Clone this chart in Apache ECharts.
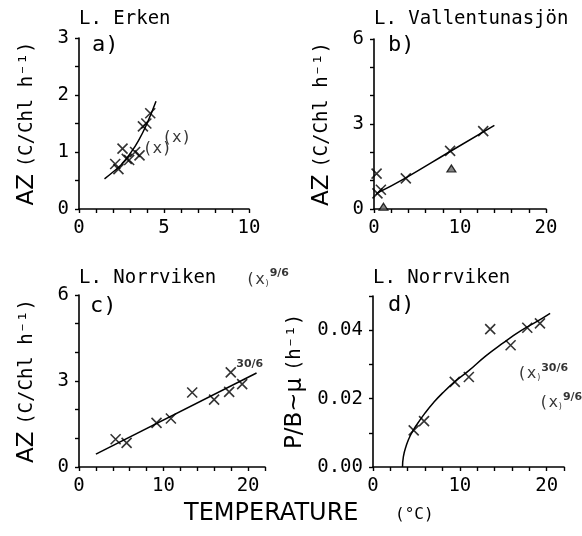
<!DOCTYPE html>
<html><head><meta charset="utf-8">
<script src="https://cdn.jsdelivr.net/npm/echarts@6/dist/echarts.min.js"></script>
<style>html,body{margin:0;padding:0;background:#fff}#c{width:582px;height:536px}</style>
</head><body><div id="c"></div>
<script>
// ---- data ----
const erkenPoints = [[2.13,0.79],[2.32,0.70],[2.56,1.06],[2.81,0.88],[2.95,0.86],[3.3,1.0],[3.56,0.94],[3.76,1.45],[3.96,1.50],[4.19,1.68]];
const erkenCurve = [[1.5,0.53],[2.0,0.65],[2.5,0.78],[3.0,0.97],[3.5,1.2],[4.0,1.5],[4.53,1.89]];
const erkenNotes = [[4.6,1.06,'(x)'],[5.75,1.25,'(x)']];
const vallPoints = [[0.3,1.25],[0.4,0.55],[0.8,0.68],[3.7,1.08],[8.85,2.05],[12.7,2.75]];
const vallCurve = [[0.3,0.55],[3.7,1.1],[8.8,2.02],[14,2.95]];
const vallTriangles = [[1.1,0.08],[9.0,1.43]];
const norrAZPoints = [[4.33,0.97],[5.63,0.84],[9.17,1.54],[10.87,1.69],[13.39,2.6],[15.98,2.35],[17.76,2.62],[17.95,3.30],[19.3,2.89]];
const norrAZLine = [[2,0.45],[21,3.28]];
const norrAZNotes = [[18.6,3.42,'','30/6'],[19.7,6.6,'(x','9/6']];
const norrPBPoints = [[4.69,0.0107],[5.88,0.0134],[9.42,0.0249],[11.04,0.0263],[13.5,0.0403],[15.85,0.0356],[17.77,0.0407],[19.23,0.0420]];
const norrPBCurve = [[3.4,0],[3.5,0.003],[3.8,0.006],[4.3,0.0092],[5,0.0122],[6,0.0158],[7,0.0189],[8,0.0216],[9.4,0.0249],[11,0.0281],[13,0.0325],[15,0.0363],[17,0.0398],[19,0.0427],[20.4,0.0449]];
const norrPBNotes = [[16.6,0.0277,'(x','30/6'],[19.1,0.0192,'(x','9/6']];
const xLabelsA = [0,5,10], yLabelsA = [0,1,2,3];
const xLabelsB = [0,10,20], yLabelsB = [0,3,6];
const xLabelsC = [0,10,20], yLabelsC = [0,3,6];
const xLabelsD = [0,10,20], yLabelsD = ['0.00','0.02','0.04'];
const titles = ['L. Erken','L. Vallentunasjön','L. Norrviken','L. Norrviken'];
const panelTags = ['a)','b)','c)','d)'];

// ---- chart ----
const MONO = 'DejaVu Sans Mono';
const chart = echarts.init(document.getElementById('c'), null, {renderer:'canvas'});
const crossPath = 'path://M0,0L10,10M10,0L0,10';

function xAx(i, max, interval, labels){
  return {type:'value', gridIndex:i, min:0, max:max, interval:interval,
    axisLine:{show:true, onZero:false, lineStyle:{color:'#000', width:1.6}},
    axisTick:{show:true, inside:false, length:4, lineStyle:{color:'#000', width:1.4}},
    splitLine:{show:false},
    axisLabel:{margin:10, color:'#000', fontFamily:MONO, fontSize:19,
      formatter:v => labels.some(l => Math.abs(l - v) < 1e-9) ? String(v) : ''}};
}
function yAx(i, max, interval, labels, nameRich, nameGap){
  return {type:'value', gridIndex:i, min:0, max:max, interval:interval,
    axisLine:{show:true, onZero:false, lineStyle:{color:'#000', width:1.6}},
    axisTick:{show:true, inside:false, length:4, lineStyle:{color:'#000', width:1.4}},
    splitLine:{show:false},
    axisLabel:{margin:10, color:'#000', fontFamily:MONO, fontSize:19,
      formatter:v => { const m = labels.find(l => Math.abs(Number(l) - v) < 1e-9); return m === undefined ? '' : String(m); }},
    name:nameRich, nameLocation:'middle', nameRotate:90, nameGap:nameGap,
    nameTextStyle:{color:'#000', rich:{
      big:{fontFamily:'DejaVu Sans', fontSize:23, color:'#000'},
      sm:{fontFamily:MONO, fontSize:19, color:'#000'}}}};
}
function crosses(i, data){
  return {type:'scatter', xAxisIndex:i, yAxisIndex:i, data:data, symbol:crossPath, symbolSize:10,
    itemStyle:{color:'none', borderColor:'#000', borderWidth:1.6}, z:5, silent:true};
}
function curve(i, data, smooth){
  return {type:'line', xAxisIndex:i, yAxisIndex:i, data:data, smooth:smooth, showSymbol:false,
    lineStyle:{color:'#000', width:1.5}, silent:true};
}
function notes(i, data){
  return {type:'scatter', xAxisIndex:i, yAxisIndex:i, clip:false, symbolSize:0, silent:true,
    data:data.map(d => ({value:[d[0], d[1]], t:d[2], s:d[3]})),
    label:{show:true, position:[0,0], align:'left', verticalAlign:'middle',
      formatter:p => (p.data.t ? '{m|' + p.data.t + '}{b|)}' : '') + (p.data.s ? '{s|' + p.data.s + '}' : ''),
      rich:{m:{fontFamily:MONO, fontSize:16, color:'#000', lineHeight:20, verticalAlign:'bottom'},
            b:{fontFamily:MONO, fontSize:8, color:'#000', lineHeight:20, verticalAlign:'bottom'},
            s:{fontFamily:'DejaVu Sans', fontWeight:'bold', fontSize:11, color:'#000', lineHeight:20, verticalAlign:'top'}}}};
}

const grids = [
  {left:79, top:38, width:170, height:171},
  {left:374, top:39, width:172, height:170},
  {left:79, top:295, width:186, height:172},
  {left:373, top:296, width:191, height:171}
];
const titlePos = [[79,19],[374,19],[79,278],[373,278]];
const tagPos = [[92,45],[388,45],[90,306],[388,305]];

const graphics = [];
titles.forEach((t,k) => graphics.push({type:'text', x:titlePos[k][0], y:titlePos[k][1],
  style:{text:t, font:'19px "' + MONO + '"', fill:'#000', textVerticalAlign:'middle'}}));
panelTags.forEach((t,k) => graphics.push({type:'text', x:tagPos[k][0], y:tagPos[k][1],
  style:{text:t, font:'22px "' + MONO + '"', fill:'#000', textVerticalAlign:'middle'}}));
graphics.push({type:'text', x:184, y:514, style:{text:'TEMPERATURE', font:'24px "DejaVu Sans"', fill:'#000', textVerticalAlign:'middle'}});
graphics.push({type:'text', x:395, y:515, style:{text:'(°C)', font:'16px "' + MONO + '"', fill:'#000', textVerticalAlign:'middle'}});

const azName = '{big|AZ}  {sm|(C/Chl h⁻¹)}';
chart.setOption({
  backgroundColor:'#fff',
  animation:false,
  grid:grids,
  graphic:graphics,
  xAxis:[xAx(0,10,1,xLabelsA), xAx(1,20,2,xLabelsB), xAx(2,22,2,xLabelsC), xAx(3,22,2,xLabelsD)],
  yAxis:[
    yAx(0,3,0.5,yLabelsA,azName,40),
    yAx(1,6,1,yLabelsB,azName,40),
    yAx(2,6,1,yLabelsC,azName,40),
    yAx(3,0.05,0.01,yLabelsD,'{big|P/B~μ}  {sm|(h⁻¹)}',66)
  ],
  series:[
    crosses(0, erkenPoints), curve(0, erkenCurve, true),
    {type:'scatter', xAxisIndex:0, yAxisIndex:0, silent:true, data:erkenNotes.map(d => ({value:[d[0],d[1]], t:d[2]})), symbolSize:0,
      label:{show:true, position:[0,0], align:'center', verticalAlign:'middle', formatter:p => p.data.t, fontFamily:MONO, fontSize:16, color:'#000'}},
    crosses(1, vallPoints), curve(1, vallCurve, true),
    {type:'scatter', xAxisIndex:1, yAxisIndex:1, data:vallTriangles, symbol:'triangle', symbolSize:[9,7], silent:true,
      itemStyle:{color:'#666', borderColor:'#000', borderWidth:1.2}},
    crosses(2, norrAZPoints), curve(2, norrAZLine, false), notes(2, norrAZNotes),
    crosses(3, norrPBPoints), curve(3, norrPBCurve, true), notes(3, norrPBNotes)
  ]
});
</script></body></html>
